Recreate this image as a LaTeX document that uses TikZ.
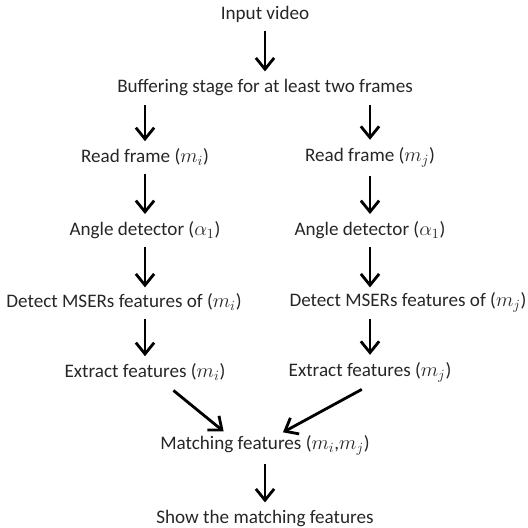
\documentclass[tikz,border=0pt]{standalone}
\usepackage{fontspec}
\setmainfont{Carlito}
\usetikzlibrary{arrows.meta}
\tikzset{
  stage/.style={inner sep=1pt, font=\fontsize{13.6}{15}\selectfont, text=black!85},
  flow/.style={-{Straight Barb[length=8pt,width=13pt]}, line width=2pt,
    shorten <=5pt, shorten >=4pt}
}
\begin{document}
\begin{tikzpicture}[x=0.025cm,y=-0.025cm]
\useasboundingbox (0,0) rectangle (528,528);

% Top part: input and buffering
\node[stage] (input) at (265,14) {Input video};
\node[stage] (buffer) at (265,87) {Buffering stage for at least two frames};
\draw[flow] (input) -- (buffer);

% Left branch
\node[stage] (readi) at (145,157) {Read frame ($m_i$)};
\node[stage] (anglei) at (145,230) {Angle detector ($\alpha_1$)};
\node[stage] (mseri) at (124,302) {Detect MSERs features of ($m_i$)};
\node[stage] (extri) at (145,372) {Extract features ($m_i$)};
\coordinate (bi) at (145,98);
\coordinate (mi1) at (145,293);
\coordinate (mi2) at (145,312);
\draw[flow] (bi) -- (readi);
\draw[flow] (readi) -- (anglei);
\draw[flow] (anglei) -- (mi1);
\draw[flow] (mi2) -- (extri);

% Right branch
\node[stage] (readj) at (370,157) {Read frame ($m_j$)};
\node[stage] (anglej) at (370,230) {Angle detector ($\alpha_1$)};
\node[stage] (mserj) at (408,302) {Detect MSERs features of ($m_j$)};
\node[stage] (extrj) at (370,372) {Extract features ($m_j$)};
\coordinate (bj) at (370,98);
\coordinate (mj1) at (370,293);
\coordinate (mj2) at (370,312);
\draw[flow] (bj) -- (readj);
\draw[flow] (readj) -- (anglej);
\draw[flow] (anglej) -- (mj1);
\draw[flow] (mj2) -- (extrj);

% Merge and output
\node[stage] (match) at (265,445) {Matching features ($m_i$,$m_j$)};
\node[stage] (show) at (265,518) {Show the matching features};
\coordinate (ei) at (168,386);
\coordinate (ej) at (368,386);
\coordinate (mi) at (228,435);
\coordinate (mj) at (278,435);
\draw[flow] (ei) -- (mi);
\draw[flow] (ej) -- (mj);
\draw[flow] (match) -- (show);
\end{tikzpicture}
\end{document}
